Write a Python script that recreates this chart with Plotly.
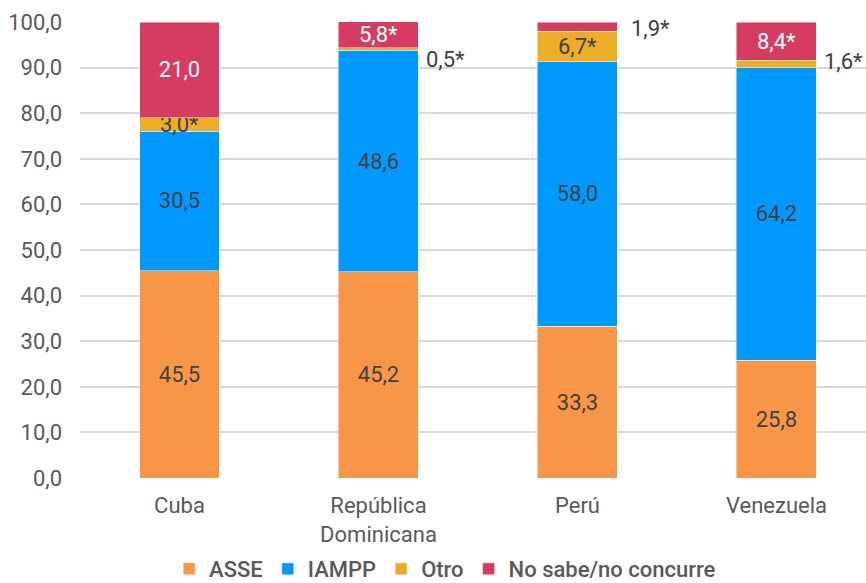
import plotly.graph_objects as go

# Categories and shares (%) by provider
countries = ["Cuba", "República<br>Dominicana", "Perú", "Venezuela"]
asse = [45.5, 45.2, 33.3, 25.8]
iampp = [30.5, 48.6, 58.0, 64.2]
otro = [3.0, 0.5, 6.7, 1.6]
no_sabe = [21.0, 5.8, 1.9, 8.4]

# Values marked with * (small samples)
otro_star = [True, True, True, True]
no_sabe_star = [False, True, True, True]

# Segments whose label sits outside the bar, to the right
outside_otro = [False, True, False, True]
outside_no_sabe = [False, False, True, False]

tick_vals = [0, 10, 20, 30, 40, 50, 60, 70, 80, 90, 100]

FONT = "Roboto"
GREY = "#595959"
DARK = "#404040"
FS = 22

# Pixel nudges (dx, dy) for the outside labels, keyed by category index
label_nudge = {1: (6, -10), 2: (12, -2), 3: (6, 2)}


def fmt(v, star=False):
    s = f"{v:.1f}".replace(".", ",")
    return s + ("*" if star else "")


series = [
    ("ASSE", asse, "#F79646", DARK, [False] * 4, [False] * 4),
    ("IAMPP", iampp, "#0099FF", DARK, [False] * 4, [False] * 4),
    ("Otro", otro, "#EDAE27", DARK, otro_star, outside_otro),
    ("No sabe/no concurre", no_sabe, "#D63C61", "white", no_sabe_star, outside_no_sabe),
]

fig = go.Figure()
annotations = []
base = [0.0] * len(countries)
for name, vals, color, txtcol, stars, outside in series:
    texts = [
        "" if out else fmt(v, st) for v, st, out in zip(vals, stars, outside)
    ]
    fig.add_trace(go.Bar(
        name=name,
        x=countries,
        y=vals,
        marker=dict(color=color, line=dict(color="rgba(255,255,255,0.6)", width=0.8)),
        width=0.402,
        text=texts,
        textposition="inside",
        insidetextanchor="middle",
        textangle=0,
        constraintext="none",
        textfont=dict(family=FONT, size=FS, color=txtcol),
        hoverinfo="skip",
    ))
    for i, (v, st, out) in enumerate(zip(vals, stars, outside)):
        if out:
            dx, dy = label_nudge.get(i, (6, 0))
            annotations.append(dict(
                x=i + 0.201, y=base[i] + v / 2, xref="x", yref="y",
                text=fmt(v, st), showarrow=False, xanchor="left",
                yanchor="middle", xshift=dx, yshift=dy,
                font=dict(family=FONT, size=FS, color=DARK),
            ))
    base = [b + v for b, v in zip(base, vals)]

fig.update_layout(
    barmode="stack",
    separators=",.",
    width=866,
    height=583,
    margin=dict(l=80, r=0, t=22, b=105, autoexpand=False),
    paper_bgcolor="white",
    plot_bgcolor="white",
    font=dict(family=FONT, size=FS, color=GREY),
    annotations=annotations,
    showlegend=True,
    legend=dict(
        orientation="h",
        xref="container", yref="container",
        x=0.514, y=0.024, xanchor="center", yanchor="middle",
        font=dict(family=FONT, size=FS, color=GREY, weight=500),
        itemwidth=30,
        traceorder="normal",
    ),
    xaxis=dict(
        range=[-0.5, 3.45],
        showgrid=False,
        showline=False,
        ticks="",
        ticklabelstandoff=12,
        tickfont=dict(family=FONT, size=FS, color=GREY),
    ),
    yaxis=dict(
        range=[0, 100],
        tickvals=tick_vals,
        tickformat=".1f",
        showgrid=True,
        gridcolor="#D9D9D9",
        gridwidth=1.5,
        zeroline=False,
        showline=False,
        ticks="",
        ticklabelstandoff=17,
        tickfont=dict(family=FONT, size=FS, color=GREY),
    ),
)

fig.write_html("out.html")
